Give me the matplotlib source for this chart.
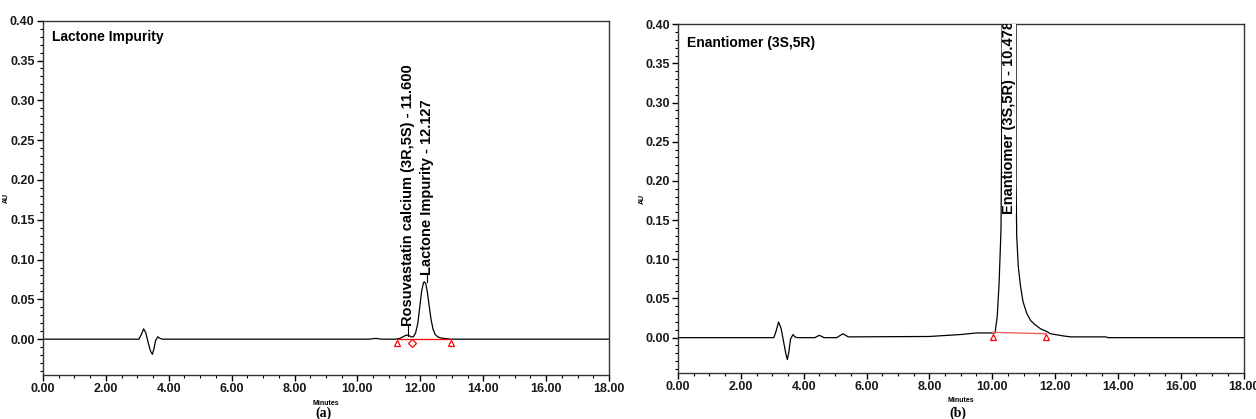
import matplotlib
matplotlib.use("Agg")
import matplotlib.pyplot as plt
from matplotlib.ticker import MultipleLocator, FormatStrFormatter

# ---- trace (a): Lactone impurity ----
time_a = [0.0, 3.05, 3.12, 3.20, 3.27, 3.35, 3.42, 3.48, 3.53, 3.58, 3.65, 3.72, 3.80,
          10.40, 10.50, 10.65, 10.75, 11.20, 11.35, 11.45, 11.55, 11.62, 11.70, 11.78,
          11.85, 11.92, 11.98, 12.04, 12.10, 12.13, 12.17, 12.22, 12.28, 12.34, 12.40,
          12.47, 12.55, 12.65, 12.80, 12.95, 18.0]
au_a = [0.0, 0.0, 0.005, 0.013, 0.008, -0.005, -0.015, -0.019, -0.012, -0.002, 0.003, 0.001, 0.0,
        0.0, 0.0008, 0.0008, 0.0, 0.0, 0.001, 0.003, 0.005, 0.005, 0.003, 0.003,
        0.008, 0.020, 0.040, 0.060, 0.071, 0.072, 0.070, 0.060, 0.042, 0.025, 0.013,
        0.006, 0.003, 0.0015, 0.0008, 0.0, 0.0]

# integration baseline / markers (a)
base_a_x = [11.25, 12.97]
base_a_y = [0.0, 0.0]
tri_a_x = [11.25, 12.97]
diamond_a_x = [11.74]
marker_a_y = -0.005

# peak labels (a)
peak_a_names = ["Rosuvastatin calcium (3R,5S) - 11.600", "Lactone Impurity - 12.127"]
peak_a_x = [11.61, 12.20]
peak_a_apex = [0.004, 0.072]
peak_a_label_y = [0.017, 0.080]

# ---- trace (b): Enantiomer ----
time_b = [0.0, 3.05, 3.12, 3.20, 3.28, 3.36, 3.44, 3.48, 3.53, 3.58, 3.66, 3.72, 3.80,
          4.35, 4.50, 4.65, 5.05, 5.25, 5.42, 8.0, 9.0, 9.5, 10.0, 10.09, 10.16,
          10.22, 10.28, 10.30, 10.32, 10.54, 10.76, 10.76, 10.78, 10.83, 10.90, 10.98,
          11.10, 11.22, 11.36, 11.55, 11.73, 11.85, 12.0, 12.3, 12.5, 13.6, 13.7, 18.0]
au_b = [0.0, 0.0, 0.008, 0.020, 0.012, -0.005, -0.022, -0.028, -0.018, -0.002, 0.004, 0.001, 0.0,
        0.0, 0.003, 0.0, 0.0, 0.005, 0.001, 0.0015, 0.004, 0.006, 0.006, 0.006, 0.027,
        0.070, 0.138, 0.244, 0.45, 1.20, 0.45, 0.200, 0.130, 0.091, 0.066, 0.046,
        0.031, 0.022, 0.0166, 0.011, 0.008, 0.005, 0.004, 0.002, 0.001, 0.001, 0.0, 0.0]

base_b_x = [10.01, 11.72]
base_b_y = [0.0068, 0.005]
tri_b_x = [10.01, 11.72]
marker_b_y = 0.0004

peak_b_name = "Enantiomer (3S,5R) - 10.478"
peak_b_x = 10.54
peak_b_label_y = 0.158

SANS = ["Liberation Sans", "DejaVu Sans"]
SERIF = ["Liberation Serif", "DejaVu Serif"]

fig = plt.figure(figsize=(12.56, 4.19), dpi=100)
ax_a = fig.add_axes([0.0342, 0.105, 0.4507, 0.8456])
ax_b = fig.add_axes([0.5398, 0.110, 0.4503, 0.832])


def style(ax, label_x):
    ax.set_xlim(0, 18)
    ax.set_ylim(-0.045, 0.40)
    ax.xaxis.set_major_locator(MultipleLocator(2))
    ax.xaxis.set_minor_locator(MultipleLocator(0.5))
    ax.yaxis.set_major_locator(MultipleLocator(0.05))
    ax.yaxis.set_minor_locator(MultipleLocator(0.01))
    ax.xaxis.set_major_formatter(FormatStrFormatter("%.2f"))
    ax.yaxis.set_major_formatter(FormatStrFormatter("%.2f"))
    ax.tick_params(which="major", length=4, width=1, pad=2)
    ax.tick_params(which="minor", length=2, width=0.8)
    for lab in ax.get_xticklabels() + ax.get_yticklabels():
        lab.set_family(SANS)
        lab.set_fontweight("bold")
        lab.set_fontsize(9)
        lab.set_color("#1a1a1a")
    for s in ax.spines.values():
        s.set_linewidth(1.0)
        s.set_color("#333333")
    ax.set_xlabel("Minutes", fontsize=5, family=SANS, fontweight="bold", labelpad=3)
    ax.set_ylabel("AU", fontsize=5, family=SANS, fontweight="bold")
    ax.yaxis.set_label_coords(label_x, 0.5)


# panel (a)
style(ax_a, -0.058)
ax_a.plot(time_a, au_a, color="black", lw=0.9)
ax_a.plot(base_a_x, base_a_y, color="red", lw=0.9)
ax_a.plot(tri_a_x, [marker_a_y] * len(tri_a_x), ls="none", marker="^", ms=5,
          mfc="white", mec="red", mew=0.9)
ax_a.plot(diamond_a_x, [marker_a_y] * len(diamond_a_x), ls="none", marker="D", ms=4,
          mfc="white", mec="red", mew=0.9)
for name, x, apex, ly in zip(peak_a_names, peak_a_x, peak_a_apex, peak_a_label_y):
    ax_a.plot([x, x], [apex, ly], color="black", lw=0.8)
    ax_a.text(x, ly, name, rotation=90, ha="center", va="bottom",
              family=SANS, fontweight="bold", fontsize=10.5)
ax_a.text(0.016, 0.955, "Lactone Impurity", transform=ax_a.transAxes, ha="left",
          va="center", family=SANS, fontweight="bold", fontsize=10)

# panel (b)
style(ax_b, -0.056)
ax_b.plot(time_b, au_b, color="black", lw=0.9)
ax_b.plot(base_b_x, base_b_y, color="#f06060", lw=1.0)
ax_b.plot(tri_b_x, [marker_b_y] * len(tri_b_x), ls="none", marker="^", ms=5,
          mfc="white", mec="red", mew=0.9)
ax_b.text(peak_b_x, peak_b_label_y, peak_b_name, rotation=90, ha="center", va="bottom",
          family=SANS, fontweight="bold", fontsize=10.5, zorder=5, clip_on=True,
          bbox=dict(facecolor="white", edgecolor="none", pad=0.2))
ax_b.text(0.016, 0.945, "Enantiomer (3S,5R)", transform=ax_b.transAxes, ha="left",
          va="center", family=SANS, fontweight="bold", fontsize=10)

fig.text(324 / 1256, 1 - 413 / 419, "(a)", ha="center", va="center",
         family=SERIF, fontweight="bold", fontsize=10)
fig.text(958 / 1256, 1 - 413 / 419, "(b)", ha="center", va="center",
         family=SERIF, fontweight="bold", fontsize=10)

fig.savefig("out.png", dpi=100, facecolor="white")
